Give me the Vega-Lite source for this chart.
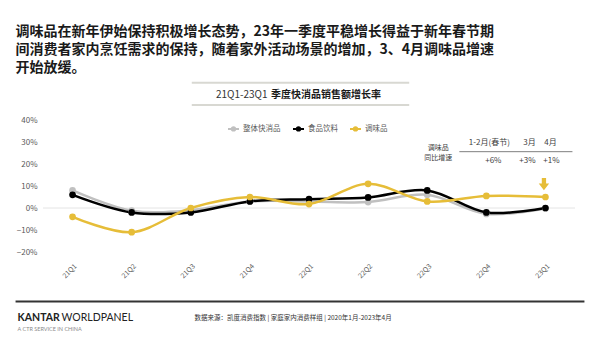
{
  "$schema": "https://vega.github.io/schema/vega-lite/v6.json",
  "width": 532,
  "height": 132,
  "autosize": {"type": "none"},
  "padding": {"left": 43, "top": 120, "right": 25, "bottom": 85},
  "background": "white",
  "config": {
    "view": {"stroke": null},
    "font": "Noto Sans CJK SC",
    "text": {"font": "Noto Sans CJK SC"}
  },
  "resolve": {"axis": {"x": "independent", "y": "independent"}},
  "layer": [
    {
      "data": {"values": [{"v": 0}]},
      "mark": {"type": "rule", "color": "#e4e4e4", "strokeWidth": 1},
      "encoding": {"y": {"field": "v", "type": "quantitative", "axis": null}}
    },
    {
      "data": {"values": [
        {"q": "21Q1", "s": "整体快消品", "v": 0.08},
        {"q": "21Q2", "s": "整体快消品", "v": -0.012},
        {"q": "21Q3", "s": "整体快消品", "v": -0.01},
        {"q": "21Q4", "s": "整体快消品", "v": 0.03},
        {"q": "22Q1", "s": "整体快消品", "v": 0.03},
        {"q": "22Q2", "s": "整体快消品", "v": 0.027},
        {"q": "22Q3", "s": "整体快消品", "v": 0.06},
        {"q": "22Q4", "s": "整体快消品", "v": -0.027},
        {"q": "23Q1", "s": "整体快消品", "v": -0.002},
        {"q": "21Q1", "s": "食品饮料", "v": 0.06},
        {"q": "21Q2", "s": "食品饮料", "v": -0.02},
        {"q": "21Q3", "s": "食品饮料", "v": -0.02},
        {"q": "21Q4", "s": "食品饮料", "v": 0.03},
        {"q": "22Q1", "s": "食品饮料", "v": 0.04},
        {"q": "22Q2", "s": "食品饮料", "v": 0.048},
        {"q": "22Q3", "s": "食品饮料", "v": 0.08},
        {"q": "22Q4", "s": "食品饮料", "v": -0.02},
        {"q": "23Q1", "s": "食品饮料", "v": 0.0},
        {"q": "21Q1", "s": "调味品", "v": -0.04},
        {"q": "21Q2", "s": "调味品", "v": -0.11},
        {"q": "21Q3", "s": "调味品", "v": 0.0},
        {"q": "21Q4", "s": "调味品", "v": 0.05},
        {"q": "22Q1", "s": "调味品", "v": 0.018},
        {"q": "22Q2", "s": "调味品", "v": 0.11},
        {"q": "22Q3", "s": "调味品", "v": 0.03},
        {"q": "22Q4", "s": "调味品", "v": 0.055},
        {"q": "23Q1", "s": "调味品", "v": 0.05}
      ]},
      "mark": {"type": "line", "interpolate": "catmull-rom", "strokeWidth": 2.5, "point": {"filled": true, "size": 45, "opacity": 1}},
      "encoding": {
        "x": {
          "field": "q", "type": "ordinal",
          "scale": {"type": "point", "padding": 0.5, "domain": ["21Q1","21Q2","21Q3","21Q4","22Q1","22Q2","22Q3","22Q4","23Q1"]},
          "axis": {"title": null, "domain": false, "ticks": false, "labelAngle": -45, "labelFontSize": 7, "labelColor": "#595959", "labelPadding": 10, "labelFont": "Noto Sans CJK SC", "labelOverlap": false}
        },
        "y": {
          "field": "v", "type": "quantitative",
          "scale": {"domain": [-0.2, 0.4], "nice": false, "zero": false},
          "axis": {"title": null, "values": [-0.2, -0.1, 0, 0.1, 0.2, 0.3, 0.4], "format": ".0%", "domain": false, "ticks": false, "grid": false, "labelFontSize": 8, "labelColor": "#595959", "labelPadding": 6, "labelFont": "Noto Sans CJK SC", "labelOverlap": false, "labelBound": false, "labelFlush": false}
        },
        "color": {
          "field": "s", "type": "nominal",
          "scale": {"domain": ["整体快消品", "食品饮料", "调味品"], "range": ["#c0c0c0", "#000000", "#e6bd38"]},
          "legend": {
            "orient": "none", "legendX": 184, "legendY": 2, "direction": "horizontal", "title": null,
            "symbolType": "M-1,0H1M-0.3,0A0.3,0.3 0 1,0 0.3,0A0.3,0.3 0 1,0 -0.3,0",
            "symbolSize": 121, "symbolStrokeWidth": 2, "labelFontSize": 7.5, "labelColor": "#595959",
            "labelFont": "Noto Sans CJK SC", "columnPadding": 8, "labelOffset": 3
          }
        },
        "order": {"field": "q"}
      }
    },
    {
      "data": {"values": [{"t": "调味品在新年伊始保持积极增长态势，23年一季度平稳增长得益于新年春节期"}]},
      "mark": {"type": "text", "align": "left", "baseline": "middle", "fontSize": 14, "fontWeight": "bold", "color": "#1a1a1a", "dx": -57},
      "encoding": {"x": {"datum": "21Q1", "type": "ordinal", "axis": null}, "y": {"datum": 0.7986, "type": "quantitative", "axis": null}, "text": {"field": "t"}}
    },
    {
      "data": {"values": [{"t": "间消费者家内烹饪需求的保持，随着家外活动场景的增加，3、4月调味品增速"}]},
      "mark": {"type": "text", "align": "left", "baseline": "middle", "fontSize": 14, "fontWeight": "bold", "color": "#1a1a1a", "dx": -57},
      "encoding": {"x": {"datum": "21Q1", "type": "ordinal", "axis": null}, "y": {"datum": 0.7168, "type": "quantitative", "axis": null}, "text": {"field": "t"}}
    },
    {
      "data": {"values": [{"t": "开始放缓。"}]},
      "mark": {"type": "text", "align": "left", "baseline": "middle", "fontSize": 14, "fontWeight": "bold", "color": "#1a1a1a", "dx": -57},
      "encoding": {"x": {"datum": "21Q1", "type": "ordinal", "axis": null}, "y": {"datum": 0.635, "type": "quantitative", "axis": null}, "text": {"field": "t"}}
    },
    {
      "data": {"values": [{"y": 0.5695}, {"y": 0.468}]},
      "mark": {"type": "rule", "color": "#d8d8d2", "strokeWidth": 2, "xOffset": 1, "x2Offset": -18},
      "encoding": {"x": {"datum": "21Q3", "type": "ordinal", "axis": null}, "x2": {"datum": "22Q3"}, "y": {"field": "y", "type": "quantitative", "axis": null}}
    },
    {
      "data": {"values": [{"t": "21Q1-23Q1"}]},
      "mark": {"type": "text", "align": "right", "baseline": "middle", "fontSize": 10, "color": "#333333", "dx": -41.5},
      "encoding": {"x": {"datum": "22Q1", "type": "ordinal", "axis": null}, "y": {"datum": 0.5136, "type": "quantitative", "axis": null}, "text": {"field": "t"}}
    },
    {
      "data": {"values": [{"t": "季度快消品销售额增长率"}]},
      "mark": {"type": "text", "align": "left", "baseline": "middle", "fontSize": 10, "fontWeight": "bold", "color": "#1a1a1a", "dx": -38},
      "encoding": {"x": {"datum": "22Q1", "type": "ordinal", "axis": null}, "y": {"datum": 0.5136, "type": "quantitative", "axis": null}, "text": {"field": "t"}}
    },
    {
      "data": {"values": [{"t": "调味品"}]},
      "mark": {"type": "text", "align": "center", "baseline": "middle", "fontSize": 7, "color": "#404040", "dx": 11},
      "encoding": {"x": {"datum": "22Q3", "type": "ordinal", "axis": null}, "y": {"datum": 0.271, "type": "quantitative", "axis": null}, "text": {"field": "t"}}
    },
    {
      "data": {"values": [{"t": "同比增速"}]},
      "mark": {"type": "text", "align": "center", "baseline": "middle", "fontSize": 7, "color": "#404040", "dx": 11},
      "encoding": {"x": {"datum": "22Q3", "type": "ordinal", "axis": null}, "y": {"datum": 0.228, "type": "quantitative", "axis": null}, "text": {"field": "t"}}
    },
    {
      "data": {"values": [{"t": "1-2月(春节)"}]},
      "mark": {"type": "text", "align": "center", "baseline": "middle", "fontSize": 8, "color": "#404040", "dx": 3},
      "encoding": {"x": {"datum": "22Q4", "type": "ordinal", "axis": null}, "y": {"datum": 0.294, "type": "quantitative", "axis": null}, "text": {"field": "t"}}
    },
    {
      "data": {"values": [{"t": "3月"}]},
      "mark": {"type": "text", "align": "center", "baseline": "middle", "fontSize": 8, "color": "#404040", "dx": -16},
      "encoding": {"x": {"datum": "23Q1", "type": "ordinal", "axis": null}, "y": {"datum": 0.294, "type": "quantitative", "axis": null}, "text": {"field": "t"}}
    },
    {
      "data": {"values": [{"t": "4月"}]},
      "mark": {"type": "text", "align": "center", "baseline": "middle", "fontSize": 8, "color": "#404040", "dx": 5},
      "encoding": {"x": {"datum": "23Q1", "type": "ordinal", "axis": null}, "y": {"datum": 0.294, "type": "quantitative", "axis": null}, "text": {"field": "t"}}
    },
    {
      "data": {"values": [{"t": "+6%"}]},
      "mark": {"type": "text", "align": "center", "baseline": "middle", "fontSize": 8, "color": "#404040", "dx": 7},
      "encoding": {"x": {"datum": "22Q4", "type": "ordinal", "axis": null}, "y": {"datum": 0.2136, "type": "quantitative", "axis": null}, "text": {"field": "t"}}
    },
    {
      "data": {"values": [{"t": "+3%"}]},
      "mark": {"type": "text", "align": "center", "baseline": "middle", "fontSize": 8, "color": "#404040", "dx": -18},
      "encoding": {"x": {"datum": "23Q1", "type": "ordinal", "axis": null}, "y": {"datum": 0.2136, "type": "quantitative", "axis": null}, "text": {"field": "t"}}
    },
    {
      "data": {"values": [{"t": "+1%"}]},
      "mark": {"type": "text", "align": "center", "baseline": "middle", "fontSize": 8, "color": "#404040", "dx": 6},
      "encoding": {"x": {"datum": "23Q1", "type": "ordinal", "axis": null}, "y": {"datum": 0.2136, "type": "quantitative", "axis": null}, "text": {"field": "t"}}
    },
    {
      "data": {"values": [{"y": 0.256}]},
      "mark": {"type": "rule", "color": "#7f7f7f", "strokeWidth": 1, "xOffset": -27, "x2Offset": 27},
      "encoding": {"x": {"datum": "22Q4", "type": "ordinal", "axis": null}, "x2": {"datum": "23Q1"}, "y": {"field": "y", "type": "quantitative", "axis": null}}
    },
    {
      "data": {"values": [{"y": 0.109}]},
      "mark": {"type": "point", "shape": "M-0.35,-1H0.35V-0.1H0.85L0,1L-0.85,-0.1H-0.35Z", "size": 150, "filled": true, "opacity": 1, "color": "#e6bd38", "xOffset": -1.5},
      "encoding": {"x": {"datum": "23Q1", "type": "ordinal", "axis": null}, "y": {"field": "y", "type": "quantitative", "axis": null}}
    },
    {
      "data": {"values": [{"y": -0.425}]},
      "mark": {"type": "rule", "color": "#333333", "strokeWidth": 2, "xOffset": -57, "x2Offset": 39},
      "encoding": {"x": {"datum": "21Q1", "type": "ordinal", "axis": null}, "x2": {"datum": "23Q1"}, "y": {"field": "y", "type": "quantitative", "axis": null}}
    },
    {
      "data": {"values": [{"t": "KANTAR"}]},
      "mark": {"type": "text", "align": "left", "baseline": "middle", "fontSize": 10.5, "fontWeight": "bold", "font": "Lato", "color": "#222222", "dx": -55},
      "encoding": {"x": {"datum": "21Q1", "type": "ordinal", "axis": null}, "y": {"datum": -0.5, "type": "quantitative", "axis": null}, "text": {"field": "t"}}
    },
    {
      "data": {"values": [{"t": "WORLDPANEL"}]},
      "mark": {"type": "text", "align": "left", "baseline": "middle", "fontSize": 10.5, "font": "Lato", "color": "#222222", "dx": -11},
      "encoding": {"x": {"datum": "21Q1", "type": "ordinal", "axis": null}, "y": {"datum": -0.5, "type": "quantitative", "axis": null}, "text": {"field": "t"}}
    },
    {
      "data": {"values": [{"t": "A CTR SERVICE IN CHINA"}]},
      "mark": {"type": "text", "align": "left", "baseline": "middle", "fontSize": 5.5, "font": "Lato", "color": "#8a8a8a", "dx": -55},
      "encoding": {"x": {"datum": "21Q1", "type": "ordinal", "axis": null}, "y": {"datum": -0.55, "type": "quantitative", "axis": null}, "text": {"field": "t"}}
    },
    {
      "data": {"values": [{"t": "数据来源：凯度消费指数 | 家庭家内消费样组 | 2020年1月-2023年4月"}]},
      "mark": {"type": "text", "align": "left", "baseline": "middle", "fontSize": 6.5, "color": "#333333", "dx": 122},
      "encoding": {"x": {"datum": "21Q1", "type": "ordinal", "axis": null}, "y": {"datum": -0.5, "type": "quantitative", "axis": null}, "text": {"field": "t"}}
    }
  ]
}
